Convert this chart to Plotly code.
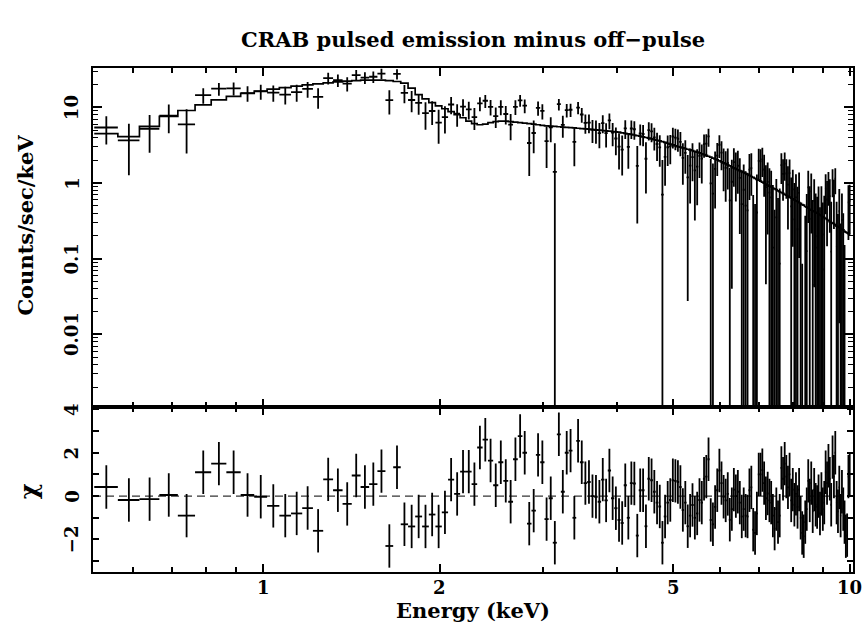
import math
import plotly.graph_objects as go
from plotly.subplots import make_subplots

# Energy bin centres (keV); every bin is 0.05 keV wide
energy = [
    0.54, 0.59, 0.64, 0.69, 0.74, 0.79, 0.84, 0.89, 0.94, 0.99,
    1.04, 1.09, 1.14, 1.19, 1.24, 1.29, 1.34, 1.39, 1.44, 1.49,
    1.54, 1.59, 1.64, 1.69, 1.74, 1.79, 1.84, 1.89, 1.94, 1.99,
    2.04, 2.09, 2.14, 2.19, 2.24, 2.29, 2.34, 2.39, 2.44, 2.49,
    2.54, 2.59, 2.64, 2.69, 2.74, 2.79, 2.84, 2.89, 2.94, 2.99,
    3.04, 3.09, 3.14, 3.19, 3.24, 3.29, 3.34, 3.39, 3.44, 3.49,
    3.54, 3.59, 3.64, 3.69, 3.74, 3.79, 3.84, 3.89, 3.94, 3.99,
    4.04, 4.09, 4.14, 4.19, 4.24, 4.29, 4.34, 4.39, 4.44, 4.49,
    4.54, 4.59, 4.64, 4.69, 4.74, 4.79, 4.84, 4.89, 4.94, 4.99,
    5.04, 5.09, 5.14, 5.19, 5.24, 5.29, 5.34, 5.39, 5.44, 5.49,
    5.54, 5.59, 5.64, 5.69, 5.74, 5.79, 5.84, 5.89, 5.94, 5.99,
    6.04, 6.09, 6.14, 6.19, 6.24, 6.29, 6.34, 6.39, 6.44, 6.49,
    6.54, 6.59, 6.64, 6.69, 6.74, 6.79, 6.84, 6.89, 6.94, 6.99,
    7.04, 7.09, 7.14, 7.19, 7.24, 7.29, 7.34, 7.39, 7.44, 7.49,
    7.54, 7.59, 7.64, 7.69, 7.74, 7.79, 7.84, 7.89, 7.94, 7.99,
    8.04, 8.09, 8.14, 8.19, 8.24, 8.29, 8.34, 8.39, 8.44, 8.49,
    8.54, 8.59, 8.64, 8.69, 8.74, 8.79, 8.84, 8.89, 8.94, 8.99,
    9.04, 9.09, 9.14, 9.19, 9.24, 9.29, 9.34, 9.39, 9.44, 9.49,
    9.54, 9.59, 9.64, 9.69, 9.74, 9.79, 9.84, 9.89, 9.94, 9.99,
]
half_width = 0.025

# Folded model (counts/sec/keV) in each bin
model = [
    4.5, 4.1, 5.6, 7.6, 9.1, 10.8, 12.6, 14.0, 15.3, 16.4,
    17.4, 18.3, 19.1, 19.8, 20.5, 21.1, 21.7, 22.2, 22.6, 22.9,
    23.0, 22.9, 22.6, 22.0, 21.0, 18.0, 14.8, 13.0, 11.6, 10.5,
    9.6, 8.8, 8.0, 7.3, 6.6, 6.1, 5.9, 6.0, 6.3, 6.5,
    6.6, 6.6, 6.5, 6.4, 6.3, 6.2, 6.1, 6.0, 5.9, 5.8,
    5.7, 5.65, 5.6, 5.55, 5.5, 5.45, 5.4, 5.35, 5.3, 5.25,
    5.2, 5.15, 5.1, 5.05, 5.0, 4.95, 4.9, 4.85, 4.8, 4.75,
    4.7, 4.62, 4.55, 4.47, 4.4, 4.32, 4.24, 4.16, 4.08, 4.0,
    3.92, 3.84, 3.76, 3.68, 3.6, 3.52, 3.44, 3.36, 3.28, 3.2,
    3.10, 3.04, 2.98, 2.92, 2.86, 2.80, 2.74, 2.68, 2.62, 2.56,
    2.50, 2.44, 2.38, 2.32, 2.26, 2.20, 2.14, 2.08, 2.02, 1.96,
    1.90, 1.85, 1.80, 1.74, 1.69, 1.64, 1.59, 1.55, 1.50, 1.46,
    1.42, 1.38, 1.34, 1.30, 1.26, 1.22, 1.19, 1.15, 1.12, 1.09,
    1.06, 1.03, 1.00, 0.97, 0.94, 0.91, 0.89, 0.86, 0.84, 0.82,
    0.79, 0.77, 0.75, 0.73, 0.71, 0.69, 0.67, 0.65, 0.63, 0.62,
    0.60, 0.58, 0.57, 0.55, 0.54, 0.52, 0.51, 0.49, 0.48, 0.47,
    0.45, 0.44, 0.43, 0.42, 0.41, 0.40, 0.39, 0.38, 0.37, 0.36,
    0.35, 0.34, 0.33, 0.32, 0.31, 0.30, 0.295, 0.29, 0.28, 0.27,
    0.265, 0.26, 0.25, 0.245, 0.24, 0.23, 0.225, 0.22, 0.215, 0.21,
]

# 1-sigma error of the pulsed rate in each bin
sigma = [
    2.2, 2.4, 2.7, 3.2, 3.5, 3.4, 3.4, 3.5, 3.6, 3.7,
    3.8, 3.9, 4.0, 4.1, 4.2, 4.3, 4.3, 4.4, 4.4, 4.4,
    4.4, 4.4, 4.4, 4.3, 4.2, 3.9, 3.5, 3.3, 3.1, 3.0,
    2.9, 2.8, 2.7, 2.6, 2.5, 2.4, 2.4, 2.4, 2.35, 2.3,
    2.28, 2.26, 2.24, 2.22, 2.2, 2.17, 2.14, 2.11, 2.08, 2.04,
    2.0, 1.98, 1.95, 1.92, 1.9, 1.88, 1.86, 1.84, 1.82, 1.8,
    1.77, 1.75, 1.72, 1.7, 1.67, 1.65, 1.62, 1.6, 1.57, 1.55,
    1.52, 1.5, 1.48, 1.46, 1.44, 1.42, 1.4, 1.39, 1.38, 1.37,
    1.36, 1.35, 1.34, 1.33, 1.32, 1.31, 1.3, 1.29, 1.28, 1.27,
    1.26, 1.25, 1.24, 1.2, 1.18, 1.16, 1.16, 1.15, 1.15, 1.14,
    1.13, 1.12, 1.12, 1.11, 1.1, 1.1, 1.09, 1.08, 1.07, 1.06,
    1.05, 1.04, 1.03, 1.02, 1.01, 1.0, 0.99, 0.98, 0.97, 0.96,
    0.95, 0.94, 0.93, 0.92, 0.91, 0.9, 0.9, 0.89, 0.89, 0.88,
    0.87, 0.86, 0.85, 0.84, 0.83, 0.82, 0.81, 0.80, 0.79, 0.78,
    0.77, 0.76, 0.75, 0.74, 0.73, 0.72, 0.71, 0.70, 0.69, 0.68,
    0.67, 0.66, 0.65, 0.64, 0.63, 0.62, 0.61, 0.60, 0.59, 0.58,
    0.57, 0.56, 0.55, 0.54, 0.53, 0.52, 0.51, 0.50, 0.49, 0.48,
    0.47, 0.46, 0.46, 0.45, 0.45, 0.44, 0.44, 0.43, 0.43, 0.42,
    0.42, 0.41, 0.41, 0.40, 0.40, 0.39, 0.39, 0.38, 0.38, 0.37,
]

# Residuals (data - model) / sigma
chi = [
    0.42, -0.18, -0.14, 0.05, -0.9, 1.1, 1.5, 1.1, 0.05, -0.03,
    -0.45, -0.9, -0.8, -0.55, -1.6, 0.77, 0.27, -0.36, 0.95, 0.42,
    0.55, 1.15, -2.3, 1.33, -1.3, -1.4, -0.94, -1.4, -0.85, -1.4,
    -0.75, 0.76, 0.1, 1.13, 1.13, 0.55, 2.24, 2.6, 1.64, 0.5,
    1.56, 0.7, -0.26, 1.7, 2.77, 2.0, -1.27, -0.67, 1.9, 1.56,
    -1.06, -0.1, -2.15, 2.85, 0.2, 2.0, 2.1, -1.0, 2.55, 1.56,
    0.6, 0.65, 0.0, -0.03, -0.26, 0.76, -0.2, 1.18, -0.1, -0.56,
    -1.1, -1.24, 0.5, -1.0, 0.6, 0.58, -1.82, 0.27, 0.27, -1.39,
    0.8, 0.73, 0.2, -0.3, -0.48, -2.15, -0.94, -0.3, -0.18, 0.73,
    0.7, 0.65, 0.42, -0.64, -0.3, -1.39, -0.9, -0.41, -1.0, -0.8,
    -0.18, -0.3, 0.8, 0.9, 1.7, -1.1, -1.3, -0.5, 0.27, 1.18,
    0.6, -0.03, -0.2, 0.1, -1.09, -0.6, 0.3, 0.0, 0.2, -0.3,
    -0.94, -0.6, -0.9, -0.94, 0.27, 0.4, -1.55, -1.7, -0.8, 1.0,
    1.0, 1.2, 0.6, -0.1, 0.12, -0.2, -0.3, -0.9, -1.5, -0.6,
    -1.2, -0.9, 1.3, 0.8, 1.5, 0.9, 0.4, 1.0, -0.2, 0.3,
    -0.4, 0.1, -0.5, 0.3, -1.0, -1.7, -1.85, -1.2, -0.6, 0.7,
    -0.2, 0.6, -0.7, 0.3, -0.4, -0.5, 0.0, -0.8, 0.1, -0.6,
    -0.3, 1.1, 0.6, 1.4, 0.8, -0.4, 1.8, 0.9, 2.0, -0.3,
    -0.7, 0.4, -0.9, 0.2, -0.6, -1.2, -1.85, -1.8, 0.9, 1.0,
]

# Observed pulsed-minus-off-pulse rate
rate = [m + c * s for m, c, s in zip(model, chi, sigma)]

title_text = "CRAB pulsed emission minus off\u2212pulse"
x_title = "Energy (keV)"
y_title_top = "Counts/sec/keV"
y_title_bottom = "\u03c7"

energy_ticks = [1, 2, 5, 10]
energy_ticktext = ["1", "2", "5", "10"]
energy_minor = [0.6, 0.7, 0.8, 0.9, 3, 4, 6, 7, 8, 9]
rate_ticks = [0.01, 0.1, 1, 10]
rate_ticktext = ["0.01", "0.1", "1", "10"]
chi_ticks = [-2, 0, 2, 4]
chi_ticktext = ["\u22122", "0", "2", "4"]
chi_minor = [-3, -1, 1, 3]

x_range = [math.log10(0.5125), math.log10(10.12)]
rate_range = [-2.963, 1.521]
chi_range = [-3.50, 4.10]
log_floor = 10 ** (rate_range[0] - 1)


def cross_segments(xc, yc, yerr, log_axis):
    xs, ys = [], []
    for x, y, e in zip(xc, yc, yerr):
        lo, hi = y - e, y + e
        if log_axis:
            lo = max(lo, log_floor)
        xs += [x, x, None]
        ys += [lo, hi, None]
        if (not log_axis) or y > 0:
            xs += [x - half_width, x + half_width, None]
            ys += [y, y, None]
    return xs, ys


fig = make_subplots(rows=2, cols=1, shared_xaxes=True, vertical_spacing=0)

line_style = dict(color="black", width=1.8)

# upper panel: data crosses and folded model
dx, dy = cross_segments(energy, rate, sigma, True)
fig.add_trace(go.Scatter(x=dx, y=dy, mode="lines", line=line_style,
                         hoverinfo="skip"), row=1, col=1)

edges = [energy[0] - half_width] + [e + half_width for e in energy]
step_vals = model + [model[-1]]
fig.add_trace(go.Scatter(x=edges, y=step_vals, mode="lines",
                         line=dict(color="black", width=1.7, shape="hv"),
                         hoverinfo="skip"), row=1, col=1)

# lower panel: residuals
rx, ry = cross_segments(energy, chi, [1.0] * len(chi), False)
fig.add_trace(go.Scatter(x=rx, y=ry, mode="lines", line=line_style,
                         hoverinfo="skip"), row=2, col=1)

split = 0.327
font_family = "DejaVu Serif"
tick_font = dict(family=font_family, size=18, color="black", weight="bold")
label_font = dict(family=font_family, size=21, color="black", weight="bold")

axis_common = dict(
    showline=True, linecolor="black", linewidth=2, mirror="allticks",
    ticks="inside", tickcolor="black", tickwidth=1.8, showgrid=False,
    zeroline=False, automargin=False,
)

fig.update_xaxes(type="log", range=x_range, tickvals=energy_ticks,
                 showticklabels=False, ticklen=8,
                 minor=dict(tickvals=energy_minor, ticks="inside", ticklen=5,
                            tickcolor="black", tickwidth=1.5, showgrid=False),
                 **axis_common)

rate_minor = [m * 10 ** d for d in range(-3, 2) for m in range(2, 10)]
fig.update_yaxes(type="log", range=rate_range, tickvals=rate_ticks,
                 showticklabels=False, ticklen=9,
                 minor=dict(tickvals=rate_minor, ticks="inside", ticklen=5,
                            tickcolor="black", tickwidth=1.4, showgrid=False),
                 domain=[split, 1], row=1, col=1, **axis_common)
fig.update_yaxes(range=chi_range, tickvals=chi_ticks, showticklabels=False,
                 ticklen=6,
                 minor=dict(tickvals=chi_minor, ticks="inside", ticklen=6,
                            tickcolor="black", tickwidth=1.5, showgrid=False),
                 domain=[0, split], row=2, col=1, **axis_common)

# zero-residual reference line
fig.add_shape(type="line", xref="x2 domain", yref="y2", x0=0, x1=1, y0=0, y1=0,
              line=dict(color="black", width=1, dash="8px,5px"))

# tick labels: energy below the residual panel, vertical ones on the left
for v, t in zip(energy_ticks, energy_ticktext):
    fig.add_annotation(text=t, xref="x2", yref="paper", x=math.log10(v),
                       y=-0.03, xanchor="center", yanchor="middle",
                       showarrow=False, font=tick_font)
label_x = -0.028
for v, t in zip(rate_ticks, rate_ticktext):
    fig.add_annotation(text=t, xref="paper", yref="y", x=label_x,
                       y=math.log10(v), xanchor="center", yanchor="middle",
                       textangle=-90, showarrow=False, font=tick_font)
for v, t in zip(chi_ticks, chi_ticktext):
    fig.add_annotation(text=t, xref="paper", yref="y2", x=label_x, y=v,
                       xanchor="center", yanchor="middle", textangle=-90,
                       showarrow=False, font=tick_font)

fig.add_annotation(text=title_text, xref="paper", yref="paper", x=0.5,
                   y=1.0556, xanchor="center", yanchor="middle",
                   showarrow=False, font=label_font)
fig.add_annotation(text=x_title, xref="paper", yref="paper", x=0.5, y=-0.077,
                   xanchor="center", yanchor="middle", showarrow=False,
                   font=label_font)
fig.add_annotation(text=y_title_top, xref="paper", yref="paper", x=-0.089,
                   y=0.688, xanchor="center", yanchor="middle", textangle=-90,
                   showarrow=False, font=label_font)
fig.add_annotation(text=y_title_bottom, xref="paper", yref="paper", x=-0.085,
                   y=0.161, xanchor="center", yanchor="middle", textangle=-90,
                   showarrow=False, font=dict(family=font_family, size=24,
                                              color="black", weight="bold"))

fig.update_layout(width=862, height=636, margin=dict(l=93, r=9, t=68, b=64),
                  plot_bgcolor="white", paper_bgcolor="white",
                  showlegend=False)

fig.write_html("out.html")
